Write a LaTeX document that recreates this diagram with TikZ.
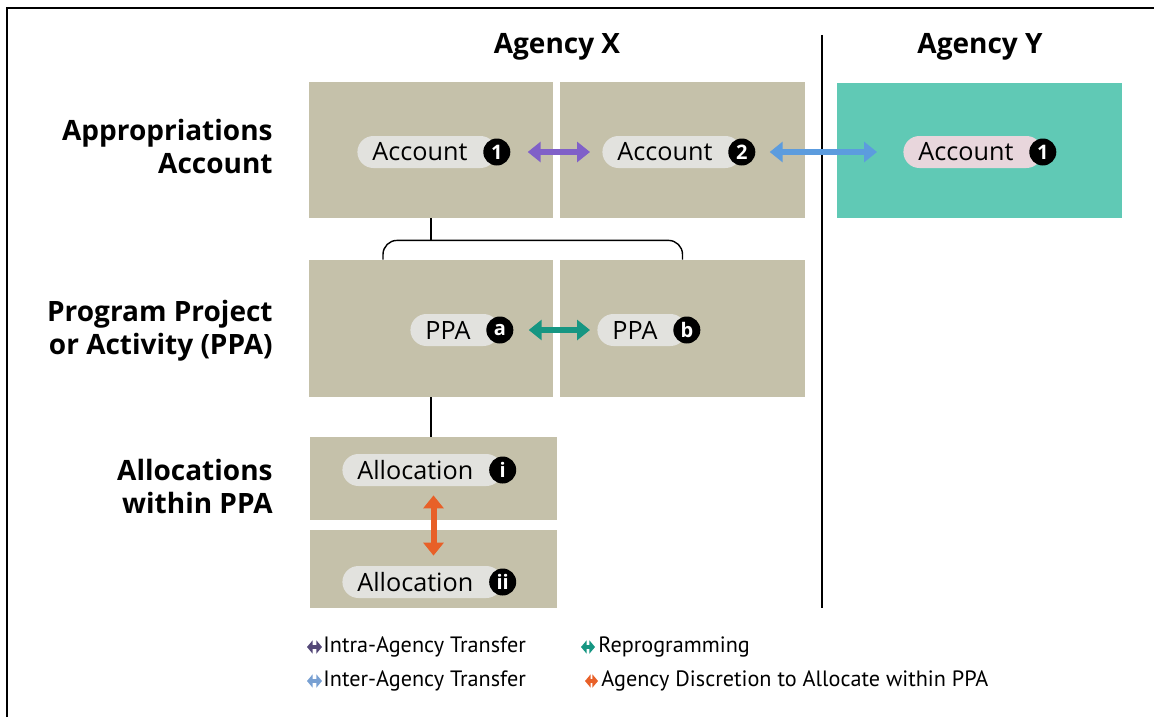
\documentclass[tikz,border=0pt]{standalone}
\usepackage{fontspec}
\setmainfont{Open Sans}
\newfontfamily\legendfont{PT Sans}
\usetikzlibrary{arrows.meta,positioning,calc}

\definecolor{cellgray}{RGB}{197,193,170}
\definecolor{cellteal}{RGB}{96,201,181}
\definecolor{pillgray}{RGB}{226,226,222}
\definecolor{pillpink}{RGB}{232,214,220}
\definecolor{arrpurple}{RGB}{128,96,200}
\definecolor{arrblue}{RGB}{92,156,222}
\definecolor{arrteal}{RGB}{22,150,130}
\definecolor{arrorange}{RGB}{232,96,40}
\definecolor{legpurple}{RGB}{84,72,120}
\definecolor{legblue}{RGB}{120,160,210}

\tikzset{
 cell/.style={fill=cellgray, inner sep=0pt, minimum width=122pt, minimum height=68pt},
 pill/.style={fill=pillgray, rounded corners=8pt, minimum height=16pt, inner xsep=7.5pt, inner ysep=0pt, anchor=west, font=\fontsize{12.6}{15}\selectfont},
 badge/.style={circle, fill=black, text=white, inner sep=0pt, minimum size=13.5pt, font=\bfseries\fontsize{10}{10}\selectfont},
 head/.style={font=\bfseries\fontsize{14}{16.5}\selectfont},
 rowlabel/.style={head, align=right, anchor=east, inner sep=0pt},
 link/.style={line width=0.7pt},
 xfer/.style={line width=3pt, {Triangle[width=10pt,length=6.5pt]}-{Triangle[width=10pt,length=6.5pt]}},
 legarr/.style={line width=2pt, {Triangle[width=6.5pt,length=2.8pt]}-{Triangle[width=6.5pt,length=2.8pt]}},
 legend/.style={anchor=west, inner sep=0pt, font=\legendfont\fontsize{11.1}{13}\selectfont},
}

\begin{document}
\begin{tikzpicture}[x=0.5pt, y=-0.5pt]
\useasboundingbox (0,0) rectangle (1154,717);
% frame and divider
\draw[line width=1pt] (7,717) -- (7,8) -- (1154,8);
\draw[line width=0.8pt] (822,35) -- (822,608);

% headers
\node[head] (agx) at (557,47) {Agency X};
\node[head] (agy) at (980,47) {Agency Y};
\node[rowlabel] (rowacc) at (273,146) {Appropriations\\Account};
\node[rowlabel] (rowppa) at (273,331) {Program Project\\or Activity (PPA)};
\node[rowlabel] (rowall) at (273,486) {Allocations\\within PPA};

% boxes
\node[cell] (acc1) at (431,150) {};
\node[cell, minimum width=122.5pt] (acc2) at (682.5,150) {};
\node[cell, fill=cellteal, minimum width=142.5pt, minimum height=67.5pt] (accy) at (979.5,150.5) {};
\node[cell, minimum height=68.5pt] (ppaA) at (431,328.5) {};
\node[cell, minimum width=122.5pt, minimum height=68.5pt] (ppaB) at (682.5,328.5) {};
\node[cell, minimum width=123.5pt, minimum height=41.5pt] (alloc1) at (433.5,478.5) {};
\node[cell, minimum width=123.5pt, minimum height=39pt] (alloc2) at (433.5,569) {};

% labels
\node[pill] (acc1t) at (357,152) {Account\kern7pt};
\node[badge] (acc1n) at (acc1t.east) {1};
\node[pill] (acc2t) at (602,152) {Account\kern7pt};
\node[badge] (acc2n) at (acc2t.east) {2};
\node[pill, fill=pillpink] (accyt) at (903,152) {Account\kern7pt};
\node[badge] (accyn) at (accyt.east) {1};
\node[pill] (ppaAt) at (410,330) {PPA\kern7pt};
\node[badge] (ppaAn) at (ppaAt.east) {a};
\node[pill] (ppaBt) at (597,330) {PPA\kern7pt};
\node[badge] (ppaBn) at (ppaBt.east) {b};
\node[pill] (alloc1t) at (342,470) {Allocation\kern7pt};
\node[badge] (alloc1n) at (alloc1t.east) {i};
\node[pill] (alloc2t) at (342,582) {Allocation\kern7pt};
\node[badge] (alloc2n) at (alloc2t.east) {ii};

% edges
\coordinate (brk) at ($(acc1.south)+(0,22)$);
\draw[link] (acc1.south) -- (brk);
\draw[link, rounded corners=7pt] ($(ppaA.north)+(-48,0)$) |- (brk -| ppaB.north) -- (ppaB.north);
\draw[link] (ppaA.south) -- (ppaA.south |- alloc1.north);

\draw[xfer, arrpurple] ([xshift=8.5pt]acc1n.east) -- ([xshift=-6pt]acc2t.west);
\draw[xfer, arrblue] ([xshift=7pt]acc2n.east) -- ([xshift=-13pt]accyt.west);
\draw[xfer, arrteal] ([xshift=7.5pt]ppaAn.east) -- ([xshift=-3.5pt]ppaBt.west);
\coordinate (o1) at (alloc1t.south -| alloc1.north);
\coordinate (o2) at (alloc2t.north -| alloc2.south);
\draw[xfer, arrorange] ([yshift=-4.5pt]o1) -- ([yshift=5pt]o2);

% legend
\node[legend] (lg1) at (323,647) {Intra-Agency Transfer};
\node[legend] (lg2) at (323,681) {Inter-Agency Transfer};
\node[legend] (lg3) at (598,647) {Reprogramming};
\node[legend] (lg4) at (601,681) {Agency Discretion to Allocate within PPA};
\draw[legarr, legpurple] ([xshift=-8pt]lg1.west) -- ([xshift=-0.5pt]lg1.west);
\draw[legarr, legblue] ([xshift=-8pt]lg2.west) -- ([xshift=-0.5pt]lg2.west);
\draw[legarr, arrteal] ([xshift=-8.5pt]lg3.west) -- ([xshift=-1.5pt]lg3.west);
\draw[legarr, arrorange] ([xshift=-8pt]lg4.west) -- ([xshift=-1.5pt]lg4.west);
\end{tikzpicture}
\end{document}
